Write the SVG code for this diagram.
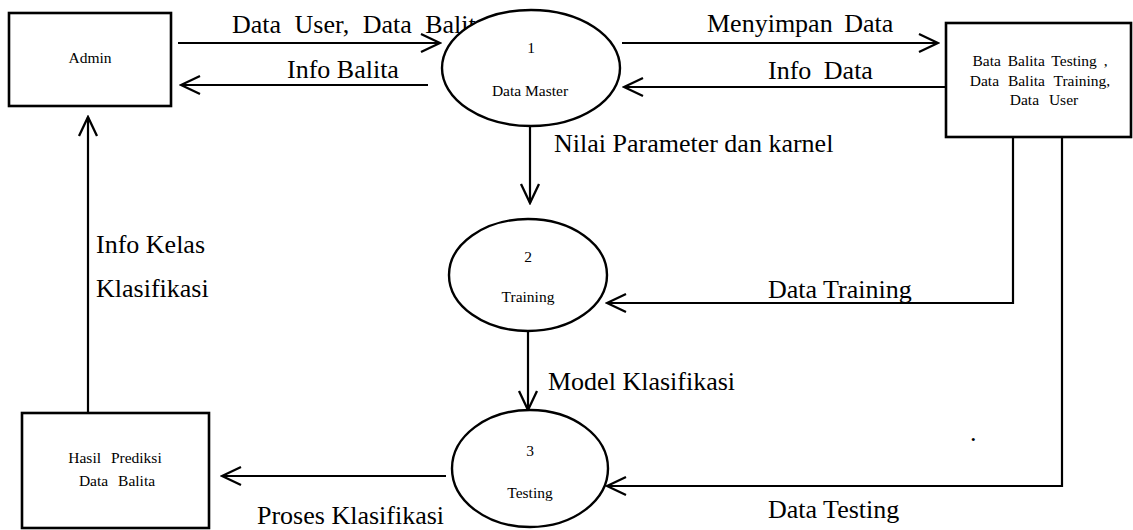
<svg xmlns="http://www.w3.org/2000/svg" width="1133" height="530" viewBox="0 0 1133 530">
  <style>
    .box { fill: #fff; stroke: #000; stroke-width: 2.6; }
    .proc { fill: #fff; stroke: #000; stroke-width: 2.4; }
    .flow { fill: none; stroke: #000; stroke-width: 2.2; marker-end: url(#open); }
    .lbl { font-family: "Liberation Serif", "Times New Roman", serif; font-size: 26px; fill: #000; }
    .nt { font-family: "Liberation Serif", "Times New Roman", serif; font-size: 15.5px; fill: #000; text-anchor: middle; }
  </style>
  <defs>
    <marker id="open" viewBox="0 0 22 22" refX="20" refY="11" markerWidth="22" markerHeight="22" markerUnits="userSpaceOnUse" orient="auto">
      <path d="M1,2 L20,11 L1,20" fill="none" stroke="#000" stroke-width="2.3"/>
    </marker>
  </defs>
  <rect width="1133" height="530" fill="#fff"/>

  <!-- data flows -->
  <g id="connectors">
    <path class="flow" d="M178,43 L440,43"/>
    <text class="lbl" x="232" y="33" word-spacing="7">Data User, Data Balita</text>

    <path class="flow" d="M428,85 L181,85"/>
    <text class="lbl" x="287" y="78">Info Balita</text>

    <path class="flow" d="M622,43 L938,43"/>
    <text class="lbl" x="707" y="32" word-spacing="5">Menyimpan Data</text>

    <path class="flow" d="M946,87 L624,87"/>
    <text class="lbl" x="768" y="79" word-spacing="6">Info Data</text>

    <path class="flow" d="M530,126 L530,203"/>
    <text class="lbl" x="554" y="152">Nilai Parameter dan karnel</text>

    <path class="flow" d="M1013,137 L1013,303 L607,303"/>
    <text class="lbl" x="768" y="298">Data Training</text>

    <path class="flow" d="M528,331 L528,410"/>
    <text class="lbl" x="548" y="390">Model Klasifikasi</text>

    <path class="flow" d="M1062,137 L1062,486 L607,486"/>
    <text class="lbl" x="768" y="518">Data Testing</text>

    <path class="flow" d="M446,476 L222,476"/>
    <text class="lbl" x="257" y="524">Proses Klasifikasi</text>

    <path class="flow" d="M88,413 L88,117"/>
    <text class="lbl" x="96" y="253">Info Kelas</text>
    <text class="lbl" x="96" y="297">Klasifikasi</text>

    <text class="lbl" x="970" y="441">.</text>
  </g>

  <!-- external entities and data store -->
  <g id="admin">
    <rect class="box" x="9" y="13" width="162" height="93"/>
    <text class="nt" x="90" y="63">Admin</text>
  </g>

  <g id="data-store">
    <rect class="box" x="946" y="23" width="185" height="114"/>
    <text class="nt" x="1040" y="66" word-spacing="3">Bata Balita Testing ,</text>
    <text class="nt" x="1040" y="86" word-spacing="5">Data Balita Training,</text>
    <text class="nt" x="1044" y="105" word-spacing="6">Data User</text>
  </g>

  <g id="hasil-prediksi">
    <rect class="box" x="22" y="413" width="187" height="115"/>
    <text class="nt" x="115" y="463" word-spacing="6">Hasil Prediksi</text>
    <text class="nt" x="117" y="486" word-spacing="6">Data Balita</text>
  </g>

  <!-- processes -->
  <g id="proc-1">
    <ellipse class="proc" cx="531" cy="68" rx="89" ry="58"/>
    <text class="nt" x="531" y="53">1</text>
    <text class="nt" x="530" y="96">Data Master</text>
  </g>

  <g id="proc-2">
    <ellipse class="proc" cx="528" cy="275" rx="79" ry="56"/>
    <text class="nt" x="528" y="262">2</text>
    <text class="nt" x="528" y="302">Training</text>
  </g>

  <g id="proc-3">
    <ellipse class="proc" cx="530" cy="468.5" rx="78" ry="58.5"/>
    <text class="nt" x="530" y="456">3</text>
    <text class="nt" x="530" y="498">Testing</text>
  </g>
</svg>
